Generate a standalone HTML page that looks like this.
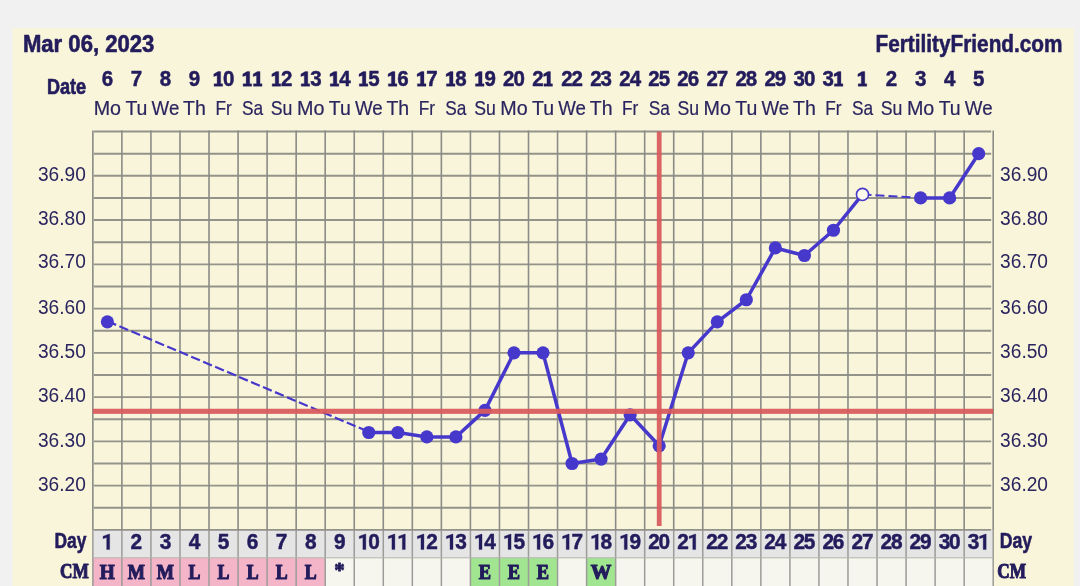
<!DOCTYPE html>
<html><head><meta charset="utf-8"><title>Chart</title>
<style>html,body{margin:0;padding:0;background:#f1f1f1;overflow:hidden}svg{display:block}</style>
</head><body>
<svg width="1080" height="586" viewBox="0 0 1080 586">
<rect x="0" y="0" width="1080" height="586" fill="#f1f1f1"/>
<defs><filter id="b" x="-2%" y="-2%" width="104%" height="104%" color-interpolation-filters="sRGB"><feGaussianBlur stdDeviation="0.45"/></filter></defs>
<g filter="url(#b)">
<rect x="12.5" y="28" width="1061.3" height="563" fill="#f9f5da"/>
<rect x="92.85" y="529.89" width="900.35" height="27.91" fill="#e5e5e5"/>
<rect x="92.85" y="557.80" width="29.04" height="30.20" fill="#f5b5c9"/>
<rect x="121.89" y="557.80" width="29.04" height="30.20" fill="#f5b5c9"/>
<rect x="150.94" y="557.80" width="29.04" height="30.20" fill="#f5b5c9"/>
<rect x="179.98" y="557.80" width="29.04" height="30.20" fill="#f5b5c9"/>
<rect x="209.02" y="557.80" width="29.04" height="30.20" fill="#f5b5c9"/>
<rect x="238.07" y="557.80" width="29.04" height="30.20" fill="#f5b5c9"/>
<rect x="267.11" y="557.80" width="29.04" height="30.20" fill="#f5b5c9"/>
<rect x="296.15" y="557.80" width="29.04" height="30.20" fill="#f5b5c9"/>
<rect x="325.20" y="557.80" width="29.04" height="30.20" fill="#f6f6ee"/>
<rect x="354.24" y="557.80" width="29.04" height="30.20" fill="#f6f6ee"/>
<rect x="383.29" y="557.80" width="29.04" height="30.20" fill="#f6f6ee"/>
<rect x="412.33" y="557.80" width="29.04" height="30.20" fill="#f6f6ee"/>
<rect x="441.37" y="557.80" width="29.04" height="30.20" fill="#f6f6ee"/>
<rect x="470.42" y="557.80" width="29.04" height="30.20" fill="#a2e590"/>
<rect x="499.46" y="557.80" width="29.04" height="30.20" fill="#a2e590"/>
<rect x="528.50" y="557.80" width="29.04" height="30.20" fill="#a2e590"/>
<rect x="557.55" y="557.80" width="29.04" height="30.20" fill="#f6f6ee"/>
<rect x="586.59" y="557.80" width="29.04" height="30.20" fill="#a2e590"/>
<rect x="615.63" y="557.80" width="29.04" height="30.20" fill="#f6f6ee"/>
<rect x="644.68" y="557.80" width="29.04" height="30.20" fill="#f6f6ee"/>
<rect x="673.72" y="557.80" width="29.04" height="30.20" fill="#f6f6ee"/>
<rect x="702.76" y="557.80" width="29.04" height="30.20" fill="#f6f6ee"/>
<rect x="731.81" y="557.80" width="29.04" height="30.20" fill="#f6f6ee"/>
<rect x="760.85" y="557.80" width="29.04" height="30.20" fill="#f6f6ee"/>
<rect x="789.90" y="557.80" width="29.04" height="30.20" fill="#f6f6ee"/>
<rect x="818.94" y="557.80" width="29.04" height="30.20" fill="#f6f6ee"/>
<rect x="847.98" y="557.80" width="29.04" height="30.20" fill="#f6f6ee"/>
<rect x="877.03" y="557.80" width="29.04" height="30.20" fill="#f6f6ee"/>
<rect x="906.07" y="557.80" width="29.04" height="30.20" fill="#f6f6ee"/>
<rect x="935.11" y="557.80" width="29.04" height="30.20" fill="#f6f6ee"/>
<rect x="964.16" y="557.80" width="29.04" height="30.20" fill="#f6f6ee"/>
<path d="M93.85 131.55H991.20M93.85 153.68H991.20M93.85 175.81H991.20M93.85 197.94H991.20M93.85 220.07H991.20M93.85 242.20H991.20M93.85 264.33H991.20M93.85 286.46H991.20M93.85 308.59H991.20M93.85 330.72H991.20M93.85 352.85H991.20M93.85 374.98H991.20M93.85 397.11H991.20M93.85 419.24H991.20M93.85 441.37H991.20M93.85 463.50H991.20M93.85 485.63H991.20M93.85 507.76H991.20M93.85 529.89H991.20" stroke="#93938a" stroke-width="1.9" fill="none"/>
<path d="M92.85 530.59V588M121.89 530.59V588M150.94 530.59V588M179.98 530.59V588M209.02 530.59V588M238.07 530.59V588M267.11 530.59V588M296.15 530.59V588M325.20 530.59V588M354.24 530.59V588M383.29 530.59V588M412.33 530.59V588M441.37 530.59V588M470.42 530.59V588M499.46 530.59V588M528.50 530.59V588M557.55 530.59V588M586.59 530.59V588M615.63 530.59V588M644.68 530.59V588M673.72 530.59V588M702.76 530.59V588M731.81 530.59V588M760.85 530.59V588M789.90 530.59V588M818.94 530.59V588M847.98 530.59V588M877.03 530.59V588M906.07 530.59V588M935.11 530.59V588M964.16 530.59V588M993.20 530.59V588" stroke="#9c9c98" stroke-width="1.5" fill="none"/>
<path d="M92.85 557.80H993.20" stroke="#b4b4b0" stroke-width="1" fill="none"/>
<path d="M92.85 130.55V530.59M121.89 130.55V530.59M150.94 130.55V530.59M179.98 130.55V530.59M209.02 130.55V530.59M238.07 130.55V530.59M267.11 130.55V530.59M296.15 130.55V530.59M325.20 130.55V530.59M354.24 130.55V530.59M383.29 130.55V530.59M412.33 130.55V530.59M441.37 130.55V530.59M470.42 130.55V530.59M499.46 130.55V530.59M528.50 130.55V530.59M557.55 130.55V530.59M586.59 130.55V530.59M615.63 130.55V530.59M644.68 130.55V530.59M673.72 130.55V530.59M702.76 130.55V530.59M731.81 130.55V530.59M760.85 130.55V530.59M789.90 130.55V530.59M818.94 130.55V530.59M847.98 130.55V530.59M877.03 130.55V530.59M906.07 130.55V530.59M935.11 130.55V530.59M964.16 130.55V530.59M993.20 130.55V530.59" stroke="#8b8b87" stroke-width="1.6" fill="none"/>
<path d="M107.37 321.87L368.76 432.52" stroke="#4738cc" stroke-width="2.2" stroke-dasharray="9.5 3.5" stroke-dashoffset="0" transform="translate(0,-0.7)" fill="none"/>
<path d="M862.50 194.40L920.59 197.94" stroke="#4738cc" stroke-width="1.9" stroke-dasharray="9 4" fill="none"/>
<path d="M368.76 432.52L397.81 432.52L426.85 436.94L455.89 436.94L484.94 410.39L513.98 352.85L543.02 352.85L572.07 463.50L601.11 459.07L630.16 414.81L659.20 445.80L688.24 352.85L717.29 321.87L746.33 299.74L775.37 247.95L804.42 255.48L833.46 230.25L862.50 194.40M920.59 197.94L949.63 197.94L978.68 153.68" stroke="#4738cc" stroke-width="3.5" stroke-linejoin="round" stroke-linecap="round" fill="none"/>
<circle cx="107.37" cy="321.87" r="6.6" fill="#4738cc"/>
<circle cx="368.76" cy="432.52" r="6.6" fill="#4738cc"/>
<circle cx="397.81" cy="432.52" r="6.6" fill="#4738cc"/>
<circle cx="426.85" cy="436.94" r="6.6" fill="#4738cc"/>
<circle cx="455.89" cy="436.94" r="6.6" fill="#4738cc"/>
<circle cx="484.94" cy="410.39" r="6.6" fill="#4738cc"/>
<circle cx="513.98" cy="352.85" r="6.6" fill="#4738cc"/>
<circle cx="543.02" cy="352.85" r="6.6" fill="#4738cc"/>
<circle cx="572.07" cy="463.50" r="6.6" fill="#4738cc"/>
<circle cx="601.11" cy="459.07" r="6.6" fill="#4738cc"/>
<circle cx="630.16" cy="414.81" r="6.6" fill="#4738cc"/>
<circle cx="659.20" cy="445.80" r="6.6" fill="#4738cc"/>
<circle cx="688.24" cy="352.85" r="6.6" fill="#4738cc"/>
<circle cx="717.29" cy="321.87" r="6.6" fill="#4738cc"/>
<circle cx="746.33" cy="299.74" r="6.6" fill="#4738cc"/>
<circle cx="775.37" cy="247.95" r="6.6" fill="#4738cc"/>
<circle cx="804.42" cy="255.48" r="6.6" fill="#4738cc"/>
<circle cx="833.46" cy="230.25" r="6.6" fill="#4738cc"/>
<circle cx="862.50" cy="194.40" r="6.05" fill="#fbf9ec" stroke="#4738cc" stroke-width="1.6"/>
<circle cx="920.59" cy="197.94" r="6.6" fill="#4738cc"/>
<circle cx="949.63" cy="197.94" r="6.6" fill="#4738cc"/>
<circle cx="978.68" cy="153.68" r="6.6" fill="#4738cc"/>
<rect x="92.85" y="408.75" width="900.35" height="5.1" fill="#d95a5c" opacity="0.94"/>
<rect x="656.80" y="131.55" width="4.8" height="394.45" fill="#d95a5c" opacity="0.94"/>
<g fill="#231c5c">
<text x="22.90" y="51.60" font-family="Liberation Sans, sans-serif" font-size="23.3" font-weight="700" textLength="131.50" lengthAdjust="spacingAndGlyphs" stroke="#231c5c" stroke-width="0.6" stroke-linejoin="round">Mar 06, 2023</text>
<text x="875.50" y="51.60" font-family="Liberation Sans, sans-serif" font-size="23.3" font-weight="700" textLength="187.00" lengthAdjust="spacingAndGlyphs" stroke="#231c5c" stroke-width="0.55" stroke-linejoin="round">FertilityFriend.com</text>
<text x="46.90" y="93.50" font-family="Liberation Sans, sans-serif" font-size="22.5" font-weight="700" textLength="39.20" lengthAdjust="spacingAndGlyphs" stroke="#231c5c" stroke-width="0.7" stroke-linejoin="round">Date</text>
<text x="54.40" y="548.30" font-family="Liberation Sans, sans-serif" font-size="22.5" font-weight="700" textLength="32.00" lengthAdjust="spacingAndGlyphs" stroke="#231c5c" stroke-width="0.6" stroke-linejoin="round">Day</text>
<text x="999.70" y="548.30" font-family="Liberation Sans, sans-serif" font-size="22.5" font-weight="700" textLength="32.40" lengthAdjust="spacingAndGlyphs" stroke="#231c5c" stroke-width="0.6" stroke-linejoin="round">Day</text>
<text x="60.00" y="578.20" font-family="Liberation Serif, serif" font-size="21.6" font-weight="700" textLength="28.80" lengthAdjust="spacingAndGlyphs" stroke="#231c5c" stroke-width="1.1" stroke-linejoin="round">CM</text>
<text x="997.20" y="578.20" font-family="Liberation Serif, serif" font-size="21.6" font-weight="700" textLength="28.80" lengthAdjust="spacingAndGlyphs" stroke="#231c5c" stroke-width="1.1" stroke-linejoin="round">CM</text>
<text x="107.37" y="86.30" font-family="Liberation Sans, sans-serif" font-size="21.3" font-weight="700" text-anchor="middle" textLength="11.40" lengthAdjust="spacingAndGlyphs" stroke="#231c5c" stroke-width="0.5" stroke-linejoin="round">6</text>
<text x="107.37" y="114.80" font-family="Liberation Sans, sans-serif" font-size="20.3" text-anchor="middle" textLength="27.40" lengthAdjust="spacingAndGlyphs" stroke="#2a245f" stroke-width="0.2" stroke-linejoin="round" fill="#2a245f">Mo</text>
<polygon points="109.67,534.09 109.67,549.60 106.67,549.60 106.67,537.59 103.07,538.69 103.07,536.19 109.17,534.09" stroke="#231c5c" stroke-width="0.3" stroke-linejoin="round"/>
<text x="107.37" y="578.70" font-family="Liberation Serif, serif" font-size="21.3" font-weight="700" text-anchor="middle" textLength="15.00" lengthAdjust="spacingAndGlyphs" stroke="#231c5c" stroke-width="1.2" stroke-linejoin="round">H</text>
<text x="136.42" y="86.30" font-family="Liberation Sans, sans-serif" font-size="21.3" font-weight="700" text-anchor="middle" textLength="11.40" lengthAdjust="spacingAndGlyphs" stroke="#231c5c" stroke-width="0.5" stroke-linejoin="round">7</text>
<text x="136.42" y="114.80" font-family="Liberation Sans, sans-serif" font-size="20.3" text-anchor="middle" textLength="22.00" lengthAdjust="spacingAndGlyphs" stroke="#2a245f" stroke-width="0.2" stroke-linejoin="round" fill="#2a245f">Tu</text>
<text x="136.42" y="549.40" font-family="Liberation Sans, sans-serif" font-size="22.0" font-weight="700" text-anchor="middle" textLength="11.60" lengthAdjust="spacingAndGlyphs" stroke="#231c5c" stroke-width="0.5" stroke-linejoin="round">2</text>
<text x="136.42" y="578.70" font-family="Liberation Serif, serif" font-size="21.3" font-weight="700" text-anchor="middle" textLength="17.20" lengthAdjust="spacingAndGlyphs" stroke="#231c5c" stroke-width="1.2" stroke-linejoin="round">M</text>
<text x="165.46" y="86.30" font-family="Liberation Sans, sans-serif" font-size="21.3" font-weight="700" text-anchor="middle" textLength="11.40" lengthAdjust="spacingAndGlyphs" stroke="#231c5c" stroke-width="0.5" stroke-linejoin="round">8</text>
<text x="165.46" y="114.80" font-family="Liberation Sans, sans-serif" font-size="20.3" text-anchor="middle" textLength="27.70" lengthAdjust="spacingAndGlyphs" stroke="#2a245f" stroke-width="0.2" stroke-linejoin="round" fill="#2a245f">We</text>
<text x="165.46" y="549.40" font-family="Liberation Sans, sans-serif" font-size="22.0" font-weight="700" text-anchor="middle" textLength="11.60" lengthAdjust="spacingAndGlyphs" stroke="#231c5c" stroke-width="0.5" stroke-linejoin="round">3</text>
<text x="165.46" y="578.70" font-family="Liberation Serif, serif" font-size="21.3" font-weight="700" text-anchor="middle" textLength="17.20" lengthAdjust="spacingAndGlyphs" stroke="#231c5c" stroke-width="1.2" stroke-linejoin="round">M</text>
<text x="194.50" y="86.30" font-family="Liberation Sans, sans-serif" font-size="21.3" font-weight="700" text-anchor="middle" textLength="11.40" lengthAdjust="spacingAndGlyphs" stroke="#231c5c" stroke-width="0.5" stroke-linejoin="round">9</text>
<text x="194.50" y="114.80" font-family="Liberation Sans, sans-serif" font-size="20.3" text-anchor="middle" textLength="22.80" lengthAdjust="spacingAndGlyphs" stroke="#2a245f" stroke-width="0.2" stroke-linejoin="round" fill="#2a245f">Th</text>
<text x="194.50" y="549.40" font-family="Liberation Sans, sans-serif" font-size="22.0" font-weight="700" text-anchor="middle" textLength="11.60" lengthAdjust="spacingAndGlyphs" stroke="#231c5c" stroke-width="0.5" stroke-linejoin="round">4</text>
<text x="194.50" y="578.70" font-family="Liberation Serif, serif" font-size="21.3" font-weight="700" text-anchor="middle" textLength="11.90" lengthAdjust="spacingAndGlyphs" stroke="#231c5c" stroke-width="1.2" stroke-linejoin="round">L</text>
<polygon points="220.67,71.60 220.67,83.80 222.67,83.80 222.67,86.30 214.07,86.30 214.07,83.80 217.12,83.80 217.12,75.50 213.77,76.60 213.77,74.10 217.97,71.60" stroke="#231c5c" stroke-width="0.3" stroke-linejoin="round"/><text x="228.72" y="86.30" font-family="Liberation Sans, sans-serif" font-size="21.3" font-weight="700" text-anchor="middle" textLength="11.40" lengthAdjust="spacingAndGlyphs" stroke="#231c5c" stroke-width="0.5" stroke-linejoin="round">0</text>
<text x="223.55" y="114.80" font-family="Liberation Sans, sans-serif" font-size="20.3" text-anchor="middle" textLength="16.30" lengthAdjust="spacingAndGlyphs" stroke="#2a245f" stroke-width="0.2" stroke-linejoin="round" fill="#2a245f">Fr</text>
<text x="223.55" y="549.40" font-family="Liberation Sans, sans-serif" font-size="22.0" font-weight="700" text-anchor="middle" textLength="11.60" lengthAdjust="spacingAndGlyphs" stroke="#231c5c" stroke-width="0.5" stroke-linejoin="round">5</text>
<text x="223.55" y="578.70" font-family="Liberation Serif, serif" font-size="21.3" font-weight="700" text-anchor="middle" textLength="11.90" lengthAdjust="spacingAndGlyphs" stroke="#231c5c" stroke-width="1.2" stroke-linejoin="round">L</text>
<polygon points="249.71,71.60 249.71,83.80 251.71,83.80 251.71,86.30 243.11,86.30 243.11,83.80 246.16,83.80 246.16,75.50 242.81,76.60 242.81,74.10 247.01,71.60" stroke="#231c5c" stroke-width="0.3" stroke-linejoin="round"/><polygon points="260.06,71.60 260.06,83.80 262.06,83.80 262.06,86.30 253.46,86.30 253.46,83.80 256.51,83.80 256.51,75.50 253.16,76.60 253.16,74.10 257.36,71.60" stroke="#231c5c" stroke-width="0.3" stroke-linejoin="round"/>
<text x="252.59" y="114.80" font-family="Liberation Sans, sans-serif" font-size="20.3" text-anchor="middle" textLength="21.10" lengthAdjust="spacingAndGlyphs" stroke="#2a245f" stroke-width="0.2" stroke-linejoin="round" fill="#2a245f">Sa</text>
<text x="252.59" y="549.40" font-family="Liberation Sans, sans-serif" font-size="22.0" font-weight="700" text-anchor="middle" textLength="11.60" lengthAdjust="spacingAndGlyphs" stroke="#231c5c" stroke-width="0.5" stroke-linejoin="round">6</text>
<text x="252.59" y="578.70" font-family="Liberation Serif, serif" font-size="21.3" font-weight="700" text-anchor="middle" textLength="11.90" lengthAdjust="spacingAndGlyphs" stroke="#231c5c" stroke-width="1.2" stroke-linejoin="round">L</text>
<polygon points="278.76,71.60 278.76,83.80 280.76,83.80 280.76,86.30 272.16,86.30 272.16,83.80 275.21,83.80 275.21,75.50 271.86,76.60 271.86,74.10 276.06,71.60" stroke="#231c5c" stroke-width="0.3" stroke-linejoin="round"/><text x="286.81" y="86.30" font-family="Liberation Sans, sans-serif" font-size="21.3" font-weight="700" text-anchor="middle" textLength="11.40" lengthAdjust="spacingAndGlyphs" stroke="#231c5c" stroke-width="0.5" stroke-linejoin="round">2</text>
<text x="281.63" y="114.80" font-family="Liberation Sans, sans-serif" font-size="20.3" text-anchor="middle" textLength="21.60" lengthAdjust="spacingAndGlyphs" stroke="#2a245f" stroke-width="0.2" stroke-linejoin="round" fill="#2a245f">Su</text>
<text x="281.63" y="549.40" font-family="Liberation Sans, sans-serif" font-size="22.0" font-weight="700" text-anchor="middle" textLength="11.60" lengthAdjust="spacingAndGlyphs" stroke="#231c5c" stroke-width="0.5" stroke-linejoin="round">7</text>
<text x="281.63" y="578.70" font-family="Liberation Serif, serif" font-size="21.3" font-weight="700" text-anchor="middle" textLength="11.90" lengthAdjust="spacingAndGlyphs" stroke="#231c5c" stroke-width="1.2" stroke-linejoin="round">L</text>
<polygon points="307.80,71.60 307.80,83.80 309.80,83.80 309.80,86.30 301.20,86.30 301.20,83.80 304.25,83.80 304.25,75.50 300.90,76.60 300.90,74.10 305.10,71.60" stroke="#231c5c" stroke-width="0.3" stroke-linejoin="round"/><text x="315.85" y="86.30" font-family="Liberation Sans, sans-serif" font-size="21.3" font-weight="700" text-anchor="middle" textLength="11.40" lengthAdjust="spacingAndGlyphs" stroke="#231c5c" stroke-width="0.5" stroke-linejoin="round">3</text>
<text x="310.68" y="114.80" font-family="Liberation Sans, sans-serif" font-size="20.3" text-anchor="middle" textLength="27.40" lengthAdjust="spacingAndGlyphs" stroke="#2a245f" stroke-width="0.2" stroke-linejoin="round" fill="#2a245f">Mo</text>
<text x="310.68" y="549.40" font-family="Liberation Sans, sans-serif" font-size="22.0" font-weight="700" text-anchor="middle" textLength="11.60" lengthAdjust="spacingAndGlyphs" stroke="#231c5c" stroke-width="0.5" stroke-linejoin="round">8</text>
<text x="310.68" y="578.70" font-family="Liberation Serif, serif" font-size="21.3" font-weight="700" text-anchor="middle" textLength="11.90" lengthAdjust="spacingAndGlyphs" stroke="#231c5c" stroke-width="1.2" stroke-linejoin="round">L</text>
<polygon points="336.85,71.60 336.85,83.80 338.85,83.80 338.85,86.30 330.25,86.30 330.25,83.80 333.30,83.80 333.30,75.50 329.95,76.60 329.95,74.10 334.15,71.60" stroke="#231c5c" stroke-width="0.3" stroke-linejoin="round"/><text x="344.90" y="86.30" font-family="Liberation Sans, sans-serif" font-size="21.3" font-weight="700" text-anchor="middle" textLength="11.40" lengthAdjust="spacingAndGlyphs" stroke="#231c5c" stroke-width="0.5" stroke-linejoin="round">4</text>
<text x="339.72" y="114.80" font-family="Liberation Sans, sans-serif" font-size="20.3" text-anchor="middle" textLength="22.00" lengthAdjust="spacingAndGlyphs" stroke="#2a245f" stroke-width="0.2" stroke-linejoin="round" fill="#2a245f">Tu</text>
<text x="339.72" y="549.40" font-family="Liberation Sans, sans-serif" font-size="22.0" font-weight="700" text-anchor="middle" textLength="11.60" lengthAdjust="spacingAndGlyphs" stroke="#231c5c" stroke-width="0.5" stroke-linejoin="round">9</text>
<text x="339.52" y="577.00" font-family="Liberation Serif, serif" font-size="21.5" font-weight="700" text-anchor="middle" textLength="10.50" lengthAdjust="spacingAndGlyphs" stroke="#231c5c" stroke-width="0.8" stroke-linejoin="round">*</text>
<polygon points="365.89,71.60 365.89,83.80 367.89,83.80 367.89,86.30 359.29,86.30 359.29,83.80 362.34,83.80 362.34,75.50 358.99,76.60 358.99,74.10 363.19,71.60" stroke="#231c5c" stroke-width="0.3" stroke-linejoin="round"/><text x="373.94" y="86.30" font-family="Liberation Sans, sans-serif" font-size="21.3" font-weight="700" text-anchor="middle" textLength="11.40" lengthAdjust="spacingAndGlyphs" stroke="#231c5c" stroke-width="0.5" stroke-linejoin="round">5</text>
<text x="368.76" y="114.80" font-family="Liberation Sans, sans-serif" font-size="20.3" text-anchor="middle" textLength="27.70" lengthAdjust="spacingAndGlyphs" stroke="#2a245f" stroke-width="0.2" stroke-linejoin="round" fill="#2a245f">We</text>
<polygon points="365.86,534.09 365.86,549.60 362.86,549.60 362.86,537.59 359.26,538.69 359.26,536.19 365.36,534.09" stroke="#231c5c" stroke-width="0.3" stroke-linejoin="round"/><text x="373.96" y="549.40" font-family="Liberation Sans, sans-serif" font-size="22.0" font-weight="700" text-anchor="middle" textLength="11.60" lengthAdjust="spacingAndGlyphs" stroke="#231c5c" stroke-width="0.5" stroke-linejoin="round">0</text>
<polygon points="394.93,71.60 394.93,83.80 396.93,83.80 396.93,86.30 388.33,86.30 388.33,83.80 391.38,83.80 391.38,75.50 388.03,76.60 388.03,74.10 392.23,71.60" stroke="#231c5c" stroke-width="0.3" stroke-linejoin="round"/><text x="402.98" y="86.30" font-family="Liberation Sans, sans-serif" font-size="21.3" font-weight="700" text-anchor="middle" textLength="11.40" lengthAdjust="spacingAndGlyphs" stroke="#231c5c" stroke-width="0.5" stroke-linejoin="round">6</text>
<text x="397.81" y="114.80" font-family="Liberation Sans, sans-serif" font-size="20.3" text-anchor="middle" textLength="22.80" lengthAdjust="spacingAndGlyphs" stroke="#2a245f" stroke-width="0.2" stroke-linejoin="round" fill="#2a245f">Th</text>
<polygon points="394.91,534.09 394.91,549.60 391.91,549.60 391.91,537.59 388.31,538.69 388.31,536.19 394.41,534.09" stroke="#231c5c" stroke-width="0.3" stroke-linejoin="round"/><polygon points="405.31,534.09 405.31,549.60 402.31,549.60 402.31,537.59 398.71,538.69 398.71,536.19 404.81,534.09" stroke="#231c5c" stroke-width="0.3" stroke-linejoin="round"/>
<polygon points="423.98,71.60 423.98,83.80 425.98,83.80 425.98,86.30 417.38,86.30 417.38,83.80 420.43,83.80 420.43,75.50 417.08,76.60 417.08,74.10 421.28,71.60" stroke="#231c5c" stroke-width="0.3" stroke-linejoin="round"/><text x="432.03" y="86.30" font-family="Liberation Sans, sans-serif" font-size="21.3" font-weight="700" text-anchor="middle" textLength="11.40" lengthAdjust="spacingAndGlyphs" stroke="#231c5c" stroke-width="0.5" stroke-linejoin="round">7</text>
<text x="426.85" y="114.80" font-family="Liberation Sans, sans-serif" font-size="20.3" text-anchor="middle" textLength="16.30" lengthAdjust="spacingAndGlyphs" stroke="#2a245f" stroke-width="0.2" stroke-linejoin="round" fill="#2a245f">Fr</text>
<polygon points="423.95,534.09 423.95,549.60 420.95,549.60 420.95,537.59 417.35,538.69 417.35,536.19 423.45,534.09" stroke="#231c5c" stroke-width="0.3" stroke-linejoin="round"/><text x="432.05" y="549.40" font-family="Liberation Sans, sans-serif" font-size="22.0" font-weight="700" text-anchor="middle" textLength="11.60" lengthAdjust="spacingAndGlyphs" stroke="#231c5c" stroke-width="0.5" stroke-linejoin="round">2</text>
<polygon points="453.02,71.60 453.02,83.80 455.02,83.80 455.02,86.30 446.42,86.30 446.42,83.80 449.47,83.80 449.47,75.50 446.12,76.60 446.12,74.10 450.32,71.60" stroke="#231c5c" stroke-width="0.3" stroke-linejoin="round"/><text x="461.07" y="86.30" font-family="Liberation Sans, sans-serif" font-size="21.3" font-weight="700" text-anchor="middle" textLength="11.40" lengthAdjust="spacingAndGlyphs" stroke="#231c5c" stroke-width="0.5" stroke-linejoin="round">8</text>
<text x="455.89" y="114.80" font-family="Liberation Sans, sans-serif" font-size="20.3" text-anchor="middle" textLength="21.10" lengthAdjust="spacingAndGlyphs" stroke="#2a245f" stroke-width="0.2" stroke-linejoin="round" fill="#2a245f">Sa</text>
<polygon points="452.99,534.09 452.99,549.60 449.99,549.60 449.99,537.59 446.39,538.69 446.39,536.19 452.49,534.09" stroke="#231c5c" stroke-width="0.3" stroke-linejoin="round"/><text x="461.09" y="549.40" font-family="Liberation Sans, sans-serif" font-size="22.0" font-weight="700" text-anchor="middle" textLength="11.60" lengthAdjust="spacingAndGlyphs" stroke="#231c5c" stroke-width="0.5" stroke-linejoin="round">3</text>
<polygon points="482.06,71.60 482.06,83.80 484.06,83.80 484.06,86.30 475.46,86.30 475.46,83.80 478.51,83.80 478.51,75.50 475.16,76.60 475.16,74.10 479.36,71.60" stroke="#231c5c" stroke-width="0.3" stroke-linejoin="round"/><text x="490.11" y="86.30" font-family="Liberation Sans, sans-serif" font-size="21.3" font-weight="700" text-anchor="middle" textLength="11.40" lengthAdjust="spacingAndGlyphs" stroke="#231c5c" stroke-width="0.5" stroke-linejoin="round">9</text>
<text x="484.94" y="114.80" font-family="Liberation Sans, sans-serif" font-size="20.3" text-anchor="middle" textLength="21.60" lengthAdjust="spacingAndGlyphs" stroke="#2a245f" stroke-width="0.2" stroke-linejoin="round" fill="#2a245f">Su</text>
<polygon points="482.04,534.09 482.04,549.60 479.04,549.60 479.04,537.59 475.44,538.69 475.44,536.19 481.54,534.09" stroke="#231c5c" stroke-width="0.3" stroke-linejoin="round"/><text x="490.14" y="549.40" font-family="Liberation Sans, sans-serif" font-size="22.0" font-weight="700" text-anchor="middle" textLength="11.60" lengthAdjust="spacingAndGlyphs" stroke="#231c5c" stroke-width="0.5" stroke-linejoin="round">4</text>
<text x="484.94" y="578.70" font-family="Liberation Serif, serif" font-size="21.3" font-weight="700" text-anchor="middle" textLength="12.30" lengthAdjust="spacingAndGlyphs" stroke="#231c5c" stroke-width="1.2" stroke-linejoin="round">E</text>
<text x="508.81" y="86.30" font-family="Liberation Sans, sans-serif" font-size="21.3" font-weight="700" text-anchor="middle" textLength="11.40" lengthAdjust="spacingAndGlyphs" stroke="#231c5c" stroke-width="0.5" stroke-linejoin="round">2</text><text x="519.16" y="86.30" font-family="Liberation Sans, sans-serif" font-size="21.3" font-weight="700" text-anchor="middle" textLength="11.40" lengthAdjust="spacingAndGlyphs" stroke="#231c5c" stroke-width="0.5" stroke-linejoin="round">0</text>
<text x="513.98" y="114.80" font-family="Liberation Sans, sans-serif" font-size="20.3" text-anchor="middle" textLength="27.40" lengthAdjust="spacingAndGlyphs" stroke="#2a245f" stroke-width="0.2" stroke-linejoin="round" fill="#2a245f">Mo</text>
<polygon points="511.08,534.09 511.08,549.60 508.08,549.60 508.08,537.59 504.48,538.69 504.48,536.19 510.58,534.09" stroke="#231c5c" stroke-width="0.3" stroke-linejoin="round"/><text x="519.18" y="549.40" font-family="Liberation Sans, sans-serif" font-size="22.0" font-weight="700" text-anchor="middle" textLength="11.60" lengthAdjust="spacingAndGlyphs" stroke="#231c5c" stroke-width="0.5" stroke-linejoin="round">5</text>
<text x="513.98" y="578.70" font-family="Liberation Serif, serif" font-size="21.3" font-weight="700" text-anchor="middle" textLength="12.30" lengthAdjust="spacingAndGlyphs" stroke="#231c5c" stroke-width="1.2" stroke-linejoin="round">E</text>
<text x="537.85" y="86.30" font-family="Liberation Sans, sans-serif" font-size="21.3" font-weight="700" text-anchor="middle" textLength="11.40" lengthAdjust="spacingAndGlyphs" stroke="#231c5c" stroke-width="0.5" stroke-linejoin="round">2</text><polygon points="550.50,71.60 550.50,83.80 552.50,83.80 552.50,86.30 543.90,86.30 543.90,83.80 546.95,83.80 546.95,75.50 543.60,76.60 543.60,74.10 547.80,71.60" stroke="#231c5c" stroke-width="0.3" stroke-linejoin="round"/>
<text x="543.02" y="114.80" font-family="Liberation Sans, sans-serif" font-size="20.3" text-anchor="middle" textLength="22.00" lengthAdjust="spacingAndGlyphs" stroke="#2a245f" stroke-width="0.2" stroke-linejoin="round" fill="#2a245f">Tu</text>
<polygon points="540.12,534.09 540.12,549.60 537.12,549.60 537.12,537.59 533.52,538.69 533.52,536.19 539.62,534.09" stroke="#231c5c" stroke-width="0.3" stroke-linejoin="round"/><text x="548.23" y="549.40" font-family="Liberation Sans, sans-serif" font-size="22.0" font-weight="700" text-anchor="middle" textLength="11.60" lengthAdjust="spacingAndGlyphs" stroke="#231c5c" stroke-width="0.5" stroke-linejoin="round">6</text>
<text x="543.02" y="578.70" font-family="Liberation Serif, serif" font-size="21.3" font-weight="700" text-anchor="middle" textLength="12.30" lengthAdjust="spacingAndGlyphs" stroke="#231c5c" stroke-width="1.2" stroke-linejoin="round">E</text>
<text x="566.89" y="86.30" font-family="Liberation Sans, sans-serif" font-size="21.3" font-weight="700" text-anchor="middle" textLength="11.40" lengthAdjust="spacingAndGlyphs" stroke="#231c5c" stroke-width="0.5" stroke-linejoin="round">2</text><text x="577.24" y="86.30" font-family="Liberation Sans, sans-serif" font-size="21.3" font-weight="700" text-anchor="middle" textLength="11.40" lengthAdjust="spacingAndGlyphs" stroke="#231c5c" stroke-width="0.5" stroke-linejoin="round">2</text>
<text x="572.07" y="114.80" font-family="Liberation Sans, sans-serif" font-size="20.3" text-anchor="middle" textLength="27.70" lengthAdjust="spacingAndGlyphs" stroke="#2a245f" stroke-width="0.2" stroke-linejoin="round" fill="#2a245f">We</text>
<polygon points="569.17,534.09 569.17,549.60 566.17,549.60 566.17,537.59 562.57,538.69 562.57,536.19 568.67,534.09" stroke="#231c5c" stroke-width="0.3" stroke-linejoin="round"/><text x="577.27" y="549.40" font-family="Liberation Sans, sans-serif" font-size="22.0" font-weight="700" text-anchor="middle" textLength="11.60" lengthAdjust="spacingAndGlyphs" stroke="#231c5c" stroke-width="0.5" stroke-linejoin="round">7</text>
<text x="595.94" y="86.30" font-family="Liberation Sans, sans-serif" font-size="21.3" font-weight="700" text-anchor="middle" textLength="11.40" lengthAdjust="spacingAndGlyphs" stroke="#231c5c" stroke-width="0.5" stroke-linejoin="round">2</text><text x="606.29" y="86.30" font-family="Liberation Sans, sans-serif" font-size="21.3" font-weight="700" text-anchor="middle" textLength="11.40" lengthAdjust="spacingAndGlyphs" stroke="#231c5c" stroke-width="0.5" stroke-linejoin="round">3</text>
<text x="601.11" y="114.80" font-family="Liberation Sans, sans-serif" font-size="20.3" text-anchor="middle" textLength="22.80" lengthAdjust="spacingAndGlyphs" stroke="#2a245f" stroke-width="0.2" stroke-linejoin="round" fill="#2a245f">Th</text>
<polygon points="598.21,534.09 598.21,549.60 595.21,549.60 595.21,537.59 591.61,538.69 591.61,536.19 597.71,534.09" stroke="#231c5c" stroke-width="0.3" stroke-linejoin="round"/><text x="606.31" y="549.40" font-family="Liberation Sans, sans-serif" font-size="22.0" font-weight="700" text-anchor="middle" textLength="11.60" lengthAdjust="spacingAndGlyphs" stroke="#231c5c" stroke-width="0.5" stroke-linejoin="round">8</text>
<text x="601.11" y="578.70" font-family="Liberation Serif, serif" font-size="21.3" font-weight="700" text-anchor="middle" textLength="20.60" lengthAdjust="spacingAndGlyphs" stroke="#231c5c" stroke-width="1.2" stroke-linejoin="round">W</text>
<text x="624.98" y="86.30" font-family="Liberation Sans, sans-serif" font-size="21.3" font-weight="700" text-anchor="middle" textLength="11.40" lengthAdjust="spacingAndGlyphs" stroke="#231c5c" stroke-width="0.5" stroke-linejoin="round">2</text><text x="635.33" y="86.30" font-family="Liberation Sans, sans-serif" font-size="21.3" font-weight="700" text-anchor="middle" textLength="11.40" lengthAdjust="spacingAndGlyphs" stroke="#231c5c" stroke-width="0.5" stroke-linejoin="round">4</text>
<text x="630.16" y="114.80" font-family="Liberation Sans, sans-serif" font-size="20.3" text-anchor="middle" textLength="16.30" lengthAdjust="spacingAndGlyphs" stroke="#2a245f" stroke-width="0.2" stroke-linejoin="round" fill="#2a245f">Fr</text>
<polygon points="627.26,534.09 627.26,549.60 624.26,549.60 624.26,537.59 620.66,538.69 620.66,536.19 626.76,534.09" stroke="#231c5c" stroke-width="0.3" stroke-linejoin="round"/><text x="635.36" y="549.40" font-family="Liberation Sans, sans-serif" font-size="22.0" font-weight="700" text-anchor="middle" textLength="11.60" lengthAdjust="spacingAndGlyphs" stroke="#231c5c" stroke-width="0.5" stroke-linejoin="round">9</text>
<text x="654.02" y="86.30" font-family="Liberation Sans, sans-serif" font-size="21.3" font-weight="700" text-anchor="middle" textLength="11.40" lengthAdjust="spacingAndGlyphs" stroke="#231c5c" stroke-width="0.5" stroke-linejoin="round">2</text><text x="664.37" y="86.30" font-family="Liberation Sans, sans-serif" font-size="21.3" font-weight="700" text-anchor="middle" textLength="11.40" lengthAdjust="spacingAndGlyphs" stroke="#231c5c" stroke-width="0.5" stroke-linejoin="round">5</text>
<text x="659.20" y="114.80" font-family="Liberation Sans, sans-serif" font-size="20.3" text-anchor="middle" textLength="21.10" lengthAdjust="spacingAndGlyphs" stroke="#2a245f" stroke-width="0.2" stroke-linejoin="round" fill="#2a245f">Sa</text>
<text x="654.00" y="549.40" font-family="Liberation Sans, sans-serif" font-size="22.0" font-weight="700" text-anchor="middle" textLength="11.60" lengthAdjust="spacingAndGlyphs" stroke="#231c5c" stroke-width="0.5" stroke-linejoin="round">2</text><text x="664.40" y="549.40" font-family="Liberation Sans, sans-serif" font-size="22.0" font-weight="700" text-anchor="middle" textLength="11.60" lengthAdjust="spacingAndGlyphs" stroke="#231c5c" stroke-width="0.5" stroke-linejoin="round">0</text>
<text x="683.07" y="86.30" font-family="Liberation Sans, sans-serif" font-size="21.3" font-weight="700" text-anchor="middle" textLength="11.40" lengthAdjust="spacingAndGlyphs" stroke="#231c5c" stroke-width="0.5" stroke-linejoin="round">2</text><text x="693.42" y="86.30" font-family="Liberation Sans, sans-serif" font-size="21.3" font-weight="700" text-anchor="middle" textLength="11.40" lengthAdjust="spacingAndGlyphs" stroke="#231c5c" stroke-width="0.5" stroke-linejoin="round">6</text>
<text x="688.24" y="114.80" font-family="Liberation Sans, sans-serif" font-size="20.3" text-anchor="middle" textLength="21.60" lengthAdjust="spacingAndGlyphs" stroke="#2a245f" stroke-width="0.2" stroke-linejoin="round" fill="#2a245f">Su</text>
<text x="683.04" y="549.40" font-family="Liberation Sans, sans-serif" font-size="22.0" font-weight="700" text-anchor="middle" textLength="11.60" lengthAdjust="spacingAndGlyphs" stroke="#231c5c" stroke-width="0.5" stroke-linejoin="round">2</text><polygon points="695.74,534.09 695.74,549.60 692.74,549.60 692.74,537.59 689.14,538.69 689.14,536.19 695.24,534.09" stroke="#231c5c" stroke-width="0.3" stroke-linejoin="round"/>
<text x="712.11" y="86.30" font-family="Liberation Sans, sans-serif" font-size="21.3" font-weight="700" text-anchor="middle" textLength="11.40" lengthAdjust="spacingAndGlyphs" stroke="#231c5c" stroke-width="0.5" stroke-linejoin="round">2</text><text x="722.46" y="86.30" font-family="Liberation Sans, sans-serif" font-size="21.3" font-weight="700" text-anchor="middle" textLength="11.40" lengthAdjust="spacingAndGlyphs" stroke="#231c5c" stroke-width="0.5" stroke-linejoin="round">7</text>
<text x="717.29" y="114.80" font-family="Liberation Sans, sans-serif" font-size="20.3" text-anchor="middle" textLength="27.40" lengthAdjust="spacingAndGlyphs" stroke="#2a245f" stroke-width="0.2" stroke-linejoin="round" fill="#2a245f">Mo</text>
<text x="712.09" y="549.40" font-family="Liberation Sans, sans-serif" font-size="22.0" font-weight="700" text-anchor="middle" textLength="11.60" lengthAdjust="spacingAndGlyphs" stroke="#231c5c" stroke-width="0.5" stroke-linejoin="round">2</text><text x="722.49" y="549.40" font-family="Liberation Sans, sans-serif" font-size="22.0" font-weight="700" text-anchor="middle" textLength="11.60" lengthAdjust="spacingAndGlyphs" stroke="#231c5c" stroke-width="0.5" stroke-linejoin="round">2</text>
<text x="741.15" y="86.30" font-family="Liberation Sans, sans-serif" font-size="21.3" font-weight="700" text-anchor="middle" textLength="11.40" lengthAdjust="spacingAndGlyphs" stroke="#231c5c" stroke-width="0.5" stroke-linejoin="round">2</text><text x="751.50" y="86.30" font-family="Liberation Sans, sans-serif" font-size="21.3" font-weight="700" text-anchor="middle" textLength="11.40" lengthAdjust="spacingAndGlyphs" stroke="#231c5c" stroke-width="0.5" stroke-linejoin="round">8</text>
<text x="746.33" y="114.80" font-family="Liberation Sans, sans-serif" font-size="20.3" text-anchor="middle" textLength="22.00" lengthAdjust="spacingAndGlyphs" stroke="#2a245f" stroke-width="0.2" stroke-linejoin="round" fill="#2a245f">Tu</text>
<text x="741.13" y="549.40" font-family="Liberation Sans, sans-serif" font-size="22.0" font-weight="700" text-anchor="middle" textLength="11.60" lengthAdjust="spacingAndGlyphs" stroke="#231c5c" stroke-width="0.5" stroke-linejoin="round">2</text><text x="751.53" y="549.40" font-family="Liberation Sans, sans-serif" font-size="22.0" font-weight="700" text-anchor="middle" textLength="11.60" lengthAdjust="spacingAndGlyphs" stroke="#231c5c" stroke-width="0.5" stroke-linejoin="round">3</text>
<text x="770.20" y="86.30" font-family="Liberation Sans, sans-serif" font-size="21.3" font-weight="700" text-anchor="middle" textLength="11.40" lengthAdjust="spacingAndGlyphs" stroke="#231c5c" stroke-width="0.5" stroke-linejoin="round">2</text><text x="780.55" y="86.30" font-family="Liberation Sans, sans-serif" font-size="21.3" font-weight="700" text-anchor="middle" textLength="11.40" lengthAdjust="spacingAndGlyphs" stroke="#231c5c" stroke-width="0.5" stroke-linejoin="round">9</text>
<text x="775.37" y="114.80" font-family="Liberation Sans, sans-serif" font-size="20.3" text-anchor="middle" textLength="27.70" lengthAdjust="spacingAndGlyphs" stroke="#2a245f" stroke-width="0.2" stroke-linejoin="round" fill="#2a245f">We</text>
<text x="770.17" y="549.40" font-family="Liberation Sans, sans-serif" font-size="22.0" font-weight="700" text-anchor="middle" textLength="11.60" lengthAdjust="spacingAndGlyphs" stroke="#231c5c" stroke-width="0.5" stroke-linejoin="round">2</text><text x="780.57" y="549.40" font-family="Liberation Sans, sans-serif" font-size="22.0" font-weight="700" text-anchor="middle" textLength="11.60" lengthAdjust="spacingAndGlyphs" stroke="#231c5c" stroke-width="0.5" stroke-linejoin="round">4</text>
<text x="799.24" y="86.30" font-family="Liberation Sans, sans-serif" font-size="21.3" font-weight="700" text-anchor="middle" textLength="11.40" lengthAdjust="spacingAndGlyphs" stroke="#231c5c" stroke-width="0.5" stroke-linejoin="round">3</text><text x="809.59" y="86.30" font-family="Liberation Sans, sans-serif" font-size="21.3" font-weight="700" text-anchor="middle" textLength="11.40" lengthAdjust="spacingAndGlyphs" stroke="#231c5c" stroke-width="0.5" stroke-linejoin="round">0</text>
<text x="804.42" y="114.80" font-family="Liberation Sans, sans-serif" font-size="20.3" text-anchor="middle" textLength="22.80" lengthAdjust="spacingAndGlyphs" stroke="#2a245f" stroke-width="0.2" stroke-linejoin="round" fill="#2a245f">Th</text>
<text x="799.22" y="549.40" font-family="Liberation Sans, sans-serif" font-size="22.0" font-weight="700" text-anchor="middle" textLength="11.60" lengthAdjust="spacingAndGlyphs" stroke="#231c5c" stroke-width="0.5" stroke-linejoin="round">2</text><text x="809.62" y="549.40" font-family="Liberation Sans, sans-serif" font-size="22.0" font-weight="700" text-anchor="middle" textLength="11.60" lengthAdjust="spacingAndGlyphs" stroke="#231c5c" stroke-width="0.5" stroke-linejoin="round">5</text>
<text x="828.29" y="86.30" font-family="Liberation Sans, sans-serif" font-size="21.3" font-weight="700" text-anchor="middle" textLength="11.40" lengthAdjust="spacingAndGlyphs" stroke="#231c5c" stroke-width="0.5" stroke-linejoin="round">3</text><polygon points="840.94,71.60 840.94,83.80 842.94,83.80 842.94,86.30 834.34,86.30 834.34,83.80 837.39,83.80 837.39,75.50 834.04,76.60 834.04,74.10 838.24,71.60" stroke="#231c5c" stroke-width="0.3" stroke-linejoin="round"/>
<text x="833.46" y="114.80" font-family="Liberation Sans, sans-serif" font-size="20.3" text-anchor="middle" textLength="16.30" lengthAdjust="spacingAndGlyphs" stroke="#2a245f" stroke-width="0.2" stroke-linejoin="round" fill="#2a245f">Fr</text>
<text x="828.26" y="549.40" font-family="Liberation Sans, sans-serif" font-size="22.0" font-weight="700" text-anchor="middle" textLength="11.60" lengthAdjust="spacingAndGlyphs" stroke="#231c5c" stroke-width="0.5" stroke-linejoin="round">2</text><text x="838.66" y="549.40" font-family="Liberation Sans, sans-serif" font-size="22.0" font-weight="700" text-anchor="middle" textLength="11.60" lengthAdjust="spacingAndGlyphs" stroke="#231c5c" stroke-width="0.5" stroke-linejoin="round">6</text>
<polygon points="864.80,71.60 864.80,83.80 866.80,83.80 866.80,86.30 858.20,86.30 858.20,83.80 861.25,83.80 861.25,75.50 857.90,76.60 857.90,74.10 862.10,71.60" stroke="#231c5c" stroke-width="0.3" stroke-linejoin="round"/>
<text x="862.50" y="114.80" font-family="Liberation Sans, sans-serif" font-size="20.3" text-anchor="middle" textLength="21.10" lengthAdjust="spacingAndGlyphs" stroke="#2a245f" stroke-width="0.2" stroke-linejoin="round" fill="#2a245f">Sa</text>
<text x="857.30" y="549.40" font-family="Liberation Sans, sans-serif" font-size="22.0" font-weight="700" text-anchor="middle" textLength="11.60" lengthAdjust="spacingAndGlyphs" stroke="#231c5c" stroke-width="0.5" stroke-linejoin="round">2</text><text x="867.70" y="549.40" font-family="Liberation Sans, sans-serif" font-size="22.0" font-weight="700" text-anchor="middle" textLength="11.60" lengthAdjust="spacingAndGlyphs" stroke="#231c5c" stroke-width="0.5" stroke-linejoin="round">7</text>
<text x="891.55" y="86.30" font-family="Liberation Sans, sans-serif" font-size="21.3" font-weight="700" text-anchor="middle" textLength="11.40" lengthAdjust="spacingAndGlyphs" stroke="#231c5c" stroke-width="0.5" stroke-linejoin="round">2</text>
<text x="891.55" y="114.80" font-family="Liberation Sans, sans-serif" font-size="20.3" text-anchor="middle" textLength="21.60" lengthAdjust="spacingAndGlyphs" stroke="#2a245f" stroke-width="0.2" stroke-linejoin="round" fill="#2a245f">Su</text>
<text x="886.35" y="549.40" font-family="Liberation Sans, sans-serif" font-size="22.0" font-weight="700" text-anchor="middle" textLength="11.60" lengthAdjust="spacingAndGlyphs" stroke="#231c5c" stroke-width="0.5" stroke-linejoin="round">2</text><text x="896.75" y="549.40" font-family="Liberation Sans, sans-serif" font-size="22.0" font-weight="700" text-anchor="middle" textLength="11.60" lengthAdjust="spacingAndGlyphs" stroke="#231c5c" stroke-width="0.5" stroke-linejoin="round">8</text>
<text x="920.59" y="86.30" font-family="Liberation Sans, sans-serif" font-size="21.3" font-weight="700" text-anchor="middle" textLength="11.40" lengthAdjust="spacingAndGlyphs" stroke="#231c5c" stroke-width="0.5" stroke-linejoin="round">3</text>
<text x="920.59" y="114.80" font-family="Liberation Sans, sans-serif" font-size="20.3" text-anchor="middle" textLength="27.40" lengthAdjust="spacingAndGlyphs" stroke="#2a245f" stroke-width="0.2" stroke-linejoin="round" fill="#2a245f">Mo</text>
<text x="915.39" y="549.40" font-family="Liberation Sans, sans-serif" font-size="22.0" font-weight="700" text-anchor="middle" textLength="11.60" lengthAdjust="spacingAndGlyphs" stroke="#231c5c" stroke-width="0.5" stroke-linejoin="round">2</text><text x="925.79" y="549.40" font-family="Liberation Sans, sans-serif" font-size="22.0" font-weight="700" text-anchor="middle" textLength="11.60" lengthAdjust="spacingAndGlyphs" stroke="#231c5c" stroke-width="0.5" stroke-linejoin="round">9</text>
<text x="949.63" y="86.30" font-family="Liberation Sans, sans-serif" font-size="21.3" font-weight="700" text-anchor="middle" textLength="11.40" lengthAdjust="spacingAndGlyphs" stroke="#231c5c" stroke-width="0.5" stroke-linejoin="round">4</text>
<text x="949.63" y="114.80" font-family="Liberation Sans, sans-serif" font-size="20.3" text-anchor="middle" textLength="22.00" lengthAdjust="spacingAndGlyphs" stroke="#2a245f" stroke-width="0.2" stroke-linejoin="round" fill="#2a245f">Tu</text>
<text x="944.43" y="549.40" font-family="Liberation Sans, sans-serif" font-size="22.0" font-weight="700" text-anchor="middle" textLength="11.60" lengthAdjust="spacingAndGlyphs" stroke="#231c5c" stroke-width="0.5" stroke-linejoin="round">3</text><text x="954.83" y="549.40" font-family="Liberation Sans, sans-serif" font-size="22.0" font-weight="700" text-anchor="middle" textLength="11.60" lengthAdjust="spacingAndGlyphs" stroke="#231c5c" stroke-width="0.5" stroke-linejoin="round">0</text>
<text x="978.68" y="86.30" font-family="Liberation Sans, sans-serif" font-size="21.3" font-weight="700" text-anchor="middle" textLength="11.40" lengthAdjust="spacingAndGlyphs" stroke="#231c5c" stroke-width="0.5" stroke-linejoin="round">5</text>
<text x="978.68" y="114.80" font-family="Liberation Sans, sans-serif" font-size="20.3" text-anchor="middle" textLength="27.70" lengthAdjust="spacingAndGlyphs" stroke="#2a245f" stroke-width="0.2" stroke-linejoin="round" fill="#2a245f">We</text>
<text x="973.48" y="549.40" font-family="Liberation Sans, sans-serif" font-size="22.0" font-weight="700" text-anchor="middle" textLength="11.60" lengthAdjust="spacingAndGlyphs" stroke="#231c5c" stroke-width="0.5" stroke-linejoin="round">3</text><polygon points="986.18,534.09 986.18,549.60 983.18,549.60 983.18,537.59 979.58,538.69 979.58,536.19 985.68,534.09" stroke="#231c5c" stroke-width="0.3" stroke-linejoin="round"/>
<text x="38.00" y="181.01" font-family="Liberation Sans, sans-serif" font-size="20" textLength="47.80" lengthAdjust="spacingAndGlyphs" fill="#2a245f">36.90</text>
<text x="1000.10" y="181.01" font-family="Liberation Sans, sans-serif" font-size="20" textLength="47.90" lengthAdjust="spacingAndGlyphs" fill="#2a245f">36.90</text>
<text x="38.00" y="225.27" font-family="Liberation Sans, sans-serif" font-size="20" textLength="47.80" lengthAdjust="spacingAndGlyphs" fill="#2a245f">36.80</text>
<text x="1000.10" y="225.27" font-family="Liberation Sans, sans-serif" font-size="20" textLength="47.90" lengthAdjust="spacingAndGlyphs" fill="#2a245f">36.80</text>
<text x="38.00" y="267.73" font-family="Liberation Sans, sans-serif" font-size="20" textLength="47.80" lengthAdjust="spacingAndGlyphs" fill="#2a245f">36.70</text>
<text x="1000.10" y="267.73" font-family="Liberation Sans, sans-serif" font-size="20" textLength="47.90" lengthAdjust="spacingAndGlyphs" fill="#2a245f">36.70</text>
<text x="38.00" y="314.39" font-family="Liberation Sans, sans-serif" font-size="20" textLength="47.80" lengthAdjust="spacingAndGlyphs" fill="#2a245f">36.60</text>
<text x="1000.10" y="314.39" font-family="Liberation Sans, sans-serif" font-size="20" textLength="47.90" lengthAdjust="spacingAndGlyphs" fill="#2a245f">36.60</text>
<text x="38.00" y="357.75" font-family="Liberation Sans, sans-serif" font-size="20" textLength="47.80" lengthAdjust="spacingAndGlyphs" fill="#2a245f">36.50</text>
<text x="1000.10" y="357.75" font-family="Liberation Sans, sans-serif" font-size="20" textLength="47.90" lengthAdjust="spacingAndGlyphs" fill="#2a245f">36.50</text>
<text x="38.00" y="402.31" font-family="Liberation Sans, sans-serif" font-size="20" textLength="47.80" lengthAdjust="spacingAndGlyphs" fill="#2a245f">36.40</text>
<text x="1000.10" y="402.31" font-family="Liberation Sans, sans-serif" font-size="20" textLength="47.90" lengthAdjust="spacingAndGlyphs" fill="#2a245f">36.40</text>
<text x="38.00" y="446.57" font-family="Liberation Sans, sans-serif" font-size="20" textLength="47.80" lengthAdjust="spacingAndGlyphs" fill="#2a245f">36.30</text>
<text x="1000.10" y="446.57" font-family="Liberation Sans, sans-serif" font-size="20" textLength="47.90" lengthAdjust="spacingAndGlyphs" fill="#2a245f">36.30</text>
<text x="38.00" y="490.83" font-family="Liberation Sans, sans-serif" font-size="20" textLength="47.80" lengthAdjust="spacingAndGlyphs" fill="#2a245f">36.20</text>
<text x="1000.10" y="490.83" font-family="Liberation Sans, sans-serif" font-size="20" textLength="47.90" lengthAdjust="spacingAndGlyphs" fill="#2a245f">36.20</text>
</g>
</g>
</svg>
</body></html>
